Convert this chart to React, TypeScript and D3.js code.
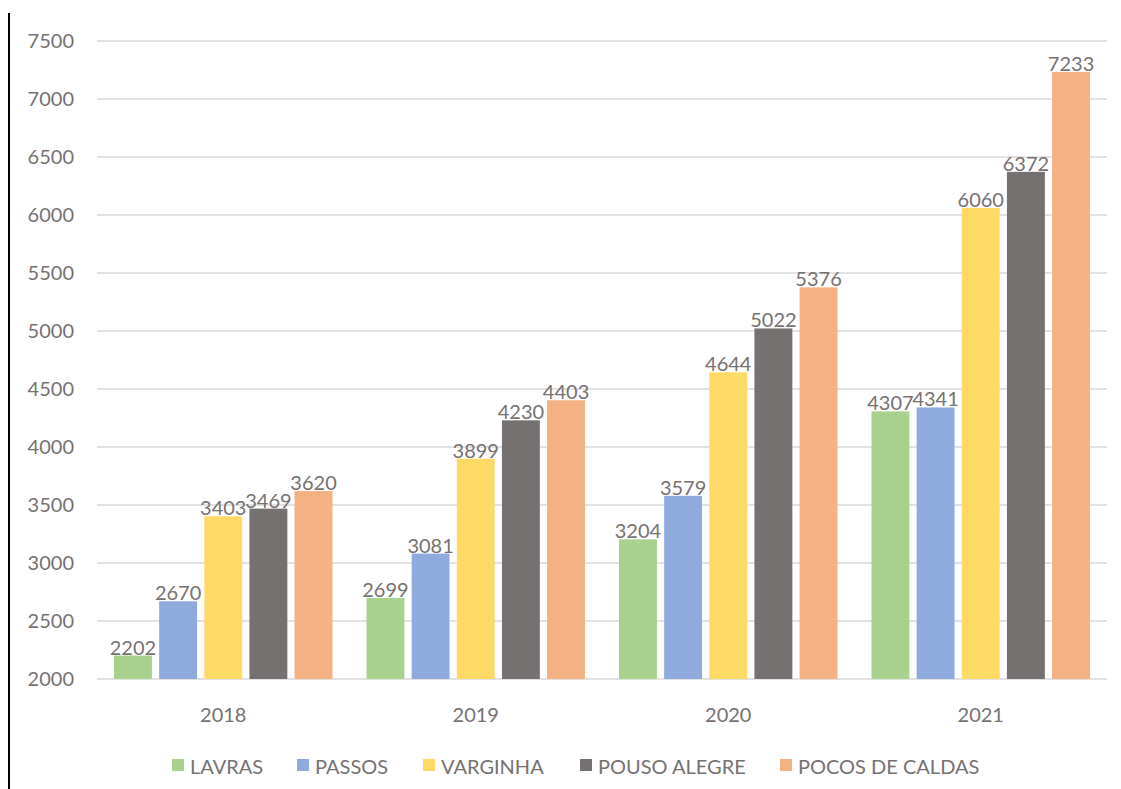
import React from "react";
import * as d3 from "d3";

const years = ["2018", "2019", "2020", "2021"];
const seriesNames = ["LAVRAS", "PASSOS", "VARGINHA", "POUSO ALEGRE", "POCOS DE CALDAS"];
const lavras = [2202, 2699, 3204, 4307];
const passos = [2670, 3081, 3579, 4341];
const varginha = [3403, 3899, 4644, 6060];
const pousoAlegre = [3469, 4230, 5022, 6372];
const pocosDeCaldas = [3620, 4403, 5376, 7233];
const yTicks = [2000, 2500, 3000, 3500, 4000, 4500, 5000, 5500, 6000, 6500, 7000, 7500];
const colors = ["#A9D18E", "#8FAADC", "#FFD966", "#767171", "#F4B183"];

const seriesValues = [lavras, passos, varginha, pousoAlegre, pocosDeCaldas];

const W = 1121;
const H = 789;
const FONT = "Lato, 'Open Sans', sans-serif";
const TEXT = "#767171";

export default function App() {
  const x0 = d3.scaleBand().domain(years).range([97, 1107]).paddingInner(0).paddingOuter(0);
  const x1 = d3
    .scaleBand()
    .domain(seriesNames)
    .range([17, x0.bandwidth() - 17])
    .paddingInner(0.16)
    .paddingOuter(0);
  const y = d3.scaleLinear().domain([2000, 7500]).range([679, 41]);

  const legendX = [172, 297, 423, 580, 780];

  return (
    <svg
      width={W}
      height={H}
      style={{ position: "absolute", left: 0, top: 0, display: "block" }}
      fontFamily={FONT}
    >
      <rect x={0} y={0} width={W} height={H} fill="#fff" />
      <line x1={9} x2={9} y1={13} y2={789} stroke="#000" strokeWidth={2} />
      {yTicks.map((t) => (
        <g key={t}>
          <line x1={97} x2={1107} y1={y(t)} y2={y(t)} stroke="#D9D9D9" strokeWidth={1.5} />
          <text x={74} y={y(t)} dy="0.35em" textAnchor="end" fontSize={20} fill={TEXT}>
            {t}
          </text>
        </g>
      ))}
      {years.map((yr, i) => (
        <g key={yr} transform={`translate(${x0(yr)},0)`}>
          {seriesNames.map((s, j) => {
            const v = seriesValues[j][i];
            const bx = x1(s)!;
            return (
              <g key={s}>
                <rect
                  x={bx}
                  y={y(v)}
                  width={x1.bandwidth()}
                  height={y(2000) - y(v)}
                  fill={colors[j]}
                />
                <text
                  x={bx + x1.bandwidth() / 2}
                  y={y(v) - 1}
                  textAnchor="middle"
                  fontSize={20}
                  fill={TEXT}
                >
                  {v}
                </text>
              </g>
            );
          })}
          <text
            x={x0.bandwidth() / 2}
            y={722}
            textAnchor="middle"
            fontSize={20}
            fill={TEXT}
          >
            {yr}
          </text>
        </g>
      ))}
      {seriesNames.map((s, j) => (
        <g key={s} transform={`translate(${legendX[j]},0)`}>
          <rect x={0} y={759} width={12} height={12} fill={colors[j]} />
          <text x={18} y={774} fontSize={20} fill={TEXT}>
            {s}
          </text>
        </g>
      ))}
    </svg>
  );
}
